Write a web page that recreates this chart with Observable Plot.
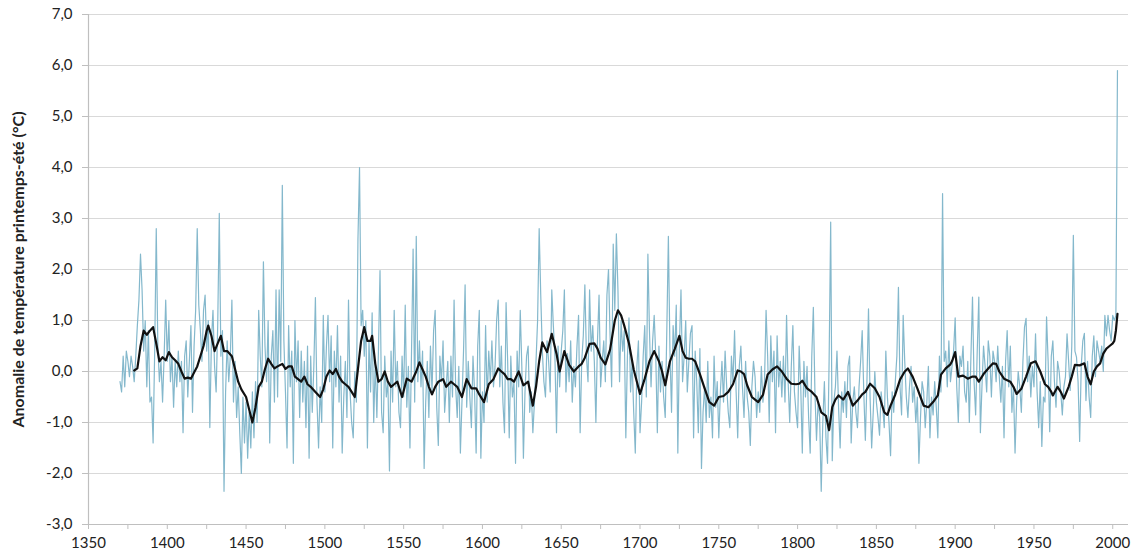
<!DOCTYPE html>
<html><head><meta charset="utf-8">
<script src="https://cdn.jsdelivr.net/npm/d3@7"></script>
<script src="https://cdn.jsdelivr.net/npm/@observablehq/plot@0.6"></script>
<style>body{margin:0;background:#fff;}</style>
</head><body><div id="chart"></div>
<script>
// Annual spring-summer temperature anomaly (°C), one value per year starting in firstYear
const firstYear = 1370;
const anomalies = [
  -0.2, -0.4, 0.3, -0.3, 0.4, 0.2, -0.1, 0.3, 0.1, -0.2,      // 1370
  0.3, 0.9, 1.4, 2.3, 1.6, 0.4, 1.0, -0.3, 0.8, -0.6,         // 1380
  -0.5, -1.4, 0.4, 2.8, 0.5, -0.2, 0.2, -0.6, 0.3, 1.4,       // 1390
  0.2, 1.0, -0.2, 0.3, -0.7, 0.2, -0.3, 0.4, -0.2, 0.2,       // 1400
  -1.2, 0.3, 0.6, -0.5, 0.2, 0.9, -0.8, 0.5, 1.2, 2.8,        // 1410
  1.3, 0.8, 0.2, 1.2, 1.5, 0.4, 1.0, -1.1, 0.6, 1.2,          // 1420
  0.1, -0.4, 0.9, 3.1, 0.3, 0.8, -2.35, -0.4, 0.6, -0.2,      // 1430
  0.3, 1.4, -0.6, 0.2, -0.9, -0.3, -1.2, -2.0, -0.5, -1.4,    // 1440
  -0.6, -1.7, -0.8, -1.5, -0.4, -1.3, -0.2, -1.0, 1.2, 0.3,   // 1450
  -0.3, 2.15, 0.5, -0.2, 1.0, -1.4, 0.3, 0.8, -0.6, 1.6,      // 1460
  -0.5, 1.6, 0.2, 3.65, 0.6, -0.4, -1.5, 0.9, -0.3, 0.4,      // 1470
  -1.8, 1.0, -0.2, 0.6, -0.9, 0.4, -0.6, 0.2, -1.1, 0.5,      // 1480
  -1.7, 0.3, -0.8, 0.1, 1.45, -0.6, -1.5, -0.3, -1.0, 1.1,    // 1490
  -0.4, 0.5, 1.1, -0.2, 0.7, -1.5, 0.4, -0.3, 0.9, -0.6,      // 1500
  0.3, -1.6, -0.5, 0.2, -0.9, 1.4, -0.4, -1.0, -1.3, 0.0,     // 1510
  -0.6, 2.6, 4.0, 0.9, 1.2, 0.3, 1.0, -1.5, 0.6, -0.4,        // 1520
  1.15, -1.0, 0.2, -0.9, 0.4, 1.98, -0.8, -1.2, 0.3, -0.5,    // 1530
  -0.2, -1.95, 0.4, -0.6, 1.2, -0.3, 0.2, -0.8, -1.1, 0.3,    // 1540
  -0.5, 1.3, -0.7, 0.1, -1.5, 0.4, 2.4, -0.6, 2.65, -0.2,     // 1550
  0.6, -0.3, 0.4, -1.9, -0.6, 0.2, -0.9, 0.5, -0.4, 0.8,      // 1560
  1.2, -0.7, -1.45, 0.3, -0.2, 0.6, -0.8, -0.3, 0.2, -1.0,    // 1570
  0.3, -0.5, 1.4, -0.3, -0.9, 0.1, -1.6, -0.6, 0.4, 1.7,      // 1580
  -0.7, 0.2, -0.5, -1.1, 0.3, -0.4, -1.6, 0.5, 1.2, -1.7,     // 1590
  -0.4, -1.0, 0.9, -0.6, 0.4, -0.2, 0.6, -0.3, 0.1, 1.0,      // 1600
  1.4, -0.3, 0.5, -0.6, -1.2, 1.35, 0.2, -1.3, 0.3, -0.5,     // 1610
  -0.2, -1.8, 0.4, -0.3, 1.2, 0.1, -1.7, -0.4, 0.3, 0.5,      // 1620
  -0.8, -0.4, -1.2, -0.6, 0.2, 1.0, 2.8, 1.5, 0.4, -0.2,      // 1630
  -0.5, 0.6, 0.2, -0.4, 1.6, 0.9, 0.3, -1.2, 0.5, -0.3,       // 1640
  0.4, 0.8, 1.6, -0.4, 0.35, -0.2, 0.6, -0.6, 0.1, -0.3,      // 1650
  0.5, 1.1, -1.2, 0.2, 0.7, 1.7, 0.3, -0.2, 1.6, 0.4,         // 1660
  0.9, 0.2, -1.0, 0.6, 1.5, -0.3, 0.2, 0.6, -0.2, 1.5,        // 1670
  2.0, 0.7, -0.3, 2.5, 1.2, 2.7, 1.6, -0.2, 1.0, 0.4,         // 1680
  0.8, -1.3, 0.3, 1.05, -0.4, 0.2, -0.8, -1.6, 0.1, 0.6,      // 1690
  -1.2, -0.6, 0.3, 0.9, -0.5, 2.3, 0.8, -0.3, 0.6, 1.1,       // 1700
  0.3, -1.2, 0.5, -0.4, 0.2, -0.5, -0.9, 0.8, 2.65, 0.4,      // 1710
  -0.8, 0.9, 0.3, 1.3, -1.6, 0.5, 1.6, -0.2, 0.3, 1.0,        // 1720
  -0.4, 0.2, 0.75, 0.9, -1.3, 0.4, -0.2, -1.2, 0.45, -1.9,    // 1730
  -0.8, -0.3, -1.0, 0.2, -0.9, -0.5, -1.3, 0.3, -0.7, -0.2,   // 1740
  -1.3, -0.4, 0.2, -0.6, 0.4, -0.3, -0.8, -1.1, 0.3, -0.2,    // 1750
  0.8, -0.4, -1.3, 0.1, 0.5, -0.3, -0.9, 0.2, -0.5, -0.8,     // 1760
  -1.45, -0.3, 0.2, -0.1, -0.9, -0.4, -0.8, 0.1, -0.6, -0.2,  // 1770
  1.2, 0.3, -1.0, 0.7, -0.2, 0.4, -1.2, 0.7, -0.3, 0.2,       // 1780
  -0.5, 0.3, -0.6, 1.1, -0.2, -1.0, 0.1, 0.9, -0.4, -0.8,     // 1790
  -1.1, 0.5, -0.3, -1.6, 0.2, -0.5, 0.1, -0.9, -1.6, 0.3,     // 1800
  1.26, -0.4, -1.35, -0.6, -0.9, -2.35, -1.0, -0.2, -1.3, -1.8, // 1810
  0.2, 2.93, -1.75, -0.6, -0.3, 0.4, -0.7, -1.5, -0.4, -0.8,  // 1820
  -0.2, -0.9, 0.1, 0.3, -1.4, -0.6, -0.3, -0.8, -1.1, -0.3,   // 1830
  0.2, 0.8, -0.4, -1.35, -0.2, 1.23, -0.5, -1.5, -0.8, 0.0,   // 1840
  -0.6, -0.9, -1.25, -0.4, -0.7, -1.1, 0.4, -0.5, -1.0, -1.65, // 1850
  -0.4, -0.8, -0.2, 0.3, 1.65, -0.3, -0.85, 1.1, 0.2, -0.5,   // 1860
  -0.9, -0.3, 0.1, -0.6, -0.3, -1.0, -0.5, -1.8, -0.9, -0.2,  // 1870
  -0.4, -1.1, -0.6, 0.1, -1.3, -0.5, -0.85, -0.2, -0.7, -1.3, // 1880
  0.3, -0.4, 3.49, 0.2, 0.4, -0.3, 0.6, -0.2, 0.1, 0.4,       // 1890
  1.05, -0.3, -1.0, 0.3, 0.1, 0.5, -0.4, -0.6, 0.2, -1.0,     // 1900
  0.3, 1.46, -0.2, -0.85, 0.4, 1.46, -1.2, -0.3, 0.5, 0.1,    // 1910
  -0.4, 0.6, 0.3, -0.5, 0.4, 0.2, -0.2, 0.5, -0.1, -0.6,      // 1920
  0.1, -1.3, 0.2, 0.8, -0.3, 0.5, -0.8, -0.3, -1.6, -0.6,     // 1930
  0.0, -0.3, -0.8, 0.2, 0.87, 1.04, -0.2, 0.3, -0.5, 0.1,     // 1940
  -0.3, 0.74, -0.4, -1.1, -0.2, -1.47, -0.5, -0.6, 1.07, 0.2, // 1950
  -1.18, 0.3, 0.6, -0.2, -0.7, 0.2, 0.0, -0.4, -0.85, -0.3,   // 1960
  -0.1, 0.74, 0.2, -0.37, 0.5, 2.67, 0.4, 0.28, -0.2, -1.37,  // 1970
  0.1, 0.6, 0.75, -0.57, 0.2, -0.5, -0.9, 0.3, 0.7, -0.1,     // 1980
  0.6, 0.4, 0.2, 0.5, 0.0, 1.1, 0.7, 1.1, 0.8, 0.6,           // 1990
  1.1, 1.0, 1.1, 5.9                                          // 2000
];

// Smoothed curve (black)
const smoothYears = [
  1379,1381,1383,1385,1387,1389,1391,1393,1395,1397,1399,1401,1403,1405,1407,1409,1411,1413,1415,1417,1419,
  1421,1423,1425,1426,1428,1430,1432,1434,1436,1438,1441,1443,1445,1447,1450,1452,1454,1456,1458,1460,
  1462,1464,1466,1468,1470,1473,1475,1477,1479,1481,1483,1485,1487,1489,1491,1494,1497,1499,
  1501,1503,1505,1507,1509,1511,1513,1515,1517,1519,1521,1523,1525,1527,1529,1530,1532,1534,1536,1538,1540,
  1542,1544,1546,1549,1552,1555,1558,1560,1562,1564,1566,1568,1570,1572,1575,1577,1580,1582,1584,1587,1590,
  1593,1596,1598,1601,1604,1607,1610,1612,1614,1616,1618,1620,1623,1626,1629,1632,1634,1636,1638,
  1641,1644,1647,1649,1652,1655,1658,1661,1663,1665,1668,1671,1673,1675,1678,1681,1684,1686,1688,1690,
  1693,1696,1698,1700,1703,1706,1709,1712,1714,1716,1719,1722,1725,1727,1729,1731,1733,1735,1738,
  1741,1744,1747,1750,1753,1756,1759,1762,1764,1766,1768,1771,1773,1775,1778,1781,1784,1787,1790,
  1793,1796,1799,1801,1803,1806,1809,1812,1815,1818,1820,1822,1824,1826,1829,1832,1835,1838,
  1841,1843,1846,1849,1852,1855,1857,1859,1862,1865,1868,1870,1873,1876,1878,1880,1883,1886,1889,
  1891,1894,1897,1898,1900,1902,1905,1908,1911,1913,1915,1918,1921,1924,1926,1928,1931,1935,1937,1939,
  1942,1945,1948,1951,1954,1957,1959,1961,1962,1965,1967,1969,1972,1974,1976,1979,1982,1984,1986,1988,
  1990,1992,1994,1996,1998,2000,2001,2002,2003
];
const smoothValues = [
  0.02,0.06,0.5,0.8,0.72,0.8,0.87,0.55,0.2,0.28,0.22,0.38,0.28,0.22,0.15,0.0,-0.14,-0.12,-0.14,-0.02,0.1,
  0.3,0.5,0.8,0.9,0.7,0.4,0.55,0.7,0.4,0.4,0.3,0.05,-0.2,-0.35,-0.5,-0.75,-1.0,-0.7,-0.3,-0.2,
  0.05,0.25,0.15,0.06,0.1,0.15,0.05,0.1,0.1,-0.1,-0.15,-0.2,-0.1,-0.25,-0.3,-0.4,-0.5,-0.35,
  -0.1,0.02,-0.05,0.05,-0.1,-0.2,-0.25,-0.3,-0.4,-0.5,0.05,0.6,0.87,0.6,0.6,0.7,0.15,-0.2,-0.15,0.0,-0.2,
  -0.3,-0.25,-0.2,-0.5,-0.14,-0.2,0.0,0.18,0.04,-0.1,-0.3,-0.45,-0.3,-0.2,-0.15,-0.3,-0.2,-0.25,-0.3,-0.5,-0.15,
  -0.33,-0.33,-0.45,-0.6,-0.25,-0.15,0.06,0.0,-0.05,-0.15,-0.15,-0.2,0.0,-0.27,-0.2,-0.67,-0.3,0.2,0.57,
  0.38,0.74,0.35,0.0,0.4,0.13,0.0,0.1,0.15,0.27,0.54,0.55,0.45,0.27,0.14,0.43,1.0,1.2,1.1,0.9,
  0.55,0.04,-0.2,-0.44,-0.14,0.2,0.4,0.2,0.0,-0.27,0.2,0.44,0.7,0.4,0.27,0.25,0.25,0.2,-0.05,
  -0.33,-0.6,-0.67,-0.5,-0.48,-0.4,-0.25,0.02,0.0,-0.05,-0.27,-0.5,-0.55,-0.6,-0.46,-0.06,0.04,0.1,0.0,
  -0.14,-0.24,-0.25,-0.24,-0.18,-0.33,-0.4,-0.5,-0.8,-0.87,-1.15,-0.7,-0.55,-0.47,-0.55,-0.4,-0.67,-0.57,
  -0.45,-0.4,-0.24,-0.33,-0.5,-0.8,-0.85,-0.67,-0.45,-0.16,0.0,0.06,-0.1,-0.33,-0.5,-0.67,-0.7,-0.6,-0.47,
  -0.06,0.06,0.14,0.2,0.38,-0.1,-0.08,-0.14,-0.1,-0.1,-0.2,-0.05,0.06,0.16,0.15,0.0,-0.14,-0.2,-0.3,-0.44,
  -0.34,-0.1,0.16,0.2,0.0,-0.25,-0.3,-0.4,-0.47,-0.3,-0.4,-0.53,-0.3,-0.1,0.13,0.12,0.16,-0.1,-0.25,0.0,
  0.1,0.16,0.35,0.45,0.5,0.55,0.6,0.8,1.13
];

const yTicks = [-3, -2, -1, 0, 1, 2, 3, 4, 5, 6, 7];
const xTicks = [1350, 1375, 1400, 1425, 1450, 1475, 1500, 1525, 1550, 1575, 1600, 1625, 1650, 1675,
                1700, 1725, 1750, 1775, 1800, 1825, 1850, 1875, 1900, 1925, 1950, 1975, 2000];
const xLabels = [1350, 1400, 1450, 1500, 1550, 1600, 1650, 1700, 1750, 1800, 1850, 1900, 1950, 2000];
const yLabel = "Anomalie de température printemps-été (°C)";

const raw = anomalies.map((v, i) => ({year: firstYear + i, value: v}));
const smooth = smoothYears.map((y, i) => ({year: y, value: smoothValues[i]}));

const chart = Plot.plot({
  width: 1142, height: 560,
  marginLeft: 88, marginRight: 14, marginTop: 14, marginBottom: 36,
  style: {fontFamily: "Lato, 'Open Sans', sans-serif", fontSize: "15px", color: "#222", background: "#fff"},
  x: {domain: [1350, 2010]},
  y: {domain: [-3, 7]},
  marks: [
    Plot.ruleY(yTicks, {stroke: "#d9d9d9", strokeWidth: 1.2}),
    Plot.ruleX([1350], {stroke: "#bfbfbf", strokeWidth: 1.2}),
    Plot.ruleY([-3], {stroke: "#bfbfbf", strokeWidth: 1.2}),
    Plot.axisY({ticks: yTicks, tickFormat: d => d.toFixed(1).replace(".", ","), tickSize: 6, tickPadding: 10,
      stroke: "#bfbfbf", fill: "#222", fontSize: 15, label: null}),
    Plot.axisX({ticks: xTicks, tickFormat: d => xLabels.includes(d) ? String(d) : "", tickSize: 5, tickPadding: 8,
      stroke: "#bfbfbf", fill: "#222", fontSize: 15, label: null}),
    Plot.line(raw, {x: "year", y: "value", stroke: "#84b8cc", strokeWidth: 1.2}),
    Plot.line(smooth, {x: "year", y: "value", stroke: "#111", strokeWidth: 2.2, strokeLinejoin: "round"}),
    Plot.text([yLabel], {frameAnchor: "left", dx: -70, rotate: -90, textAnchor: "middle",
      fontWeight: "bold", fontSize: 16, fill: "#222"})
  ]
});
document.getElementById("chart").appendChild(chart);
</script>
</body></html>
